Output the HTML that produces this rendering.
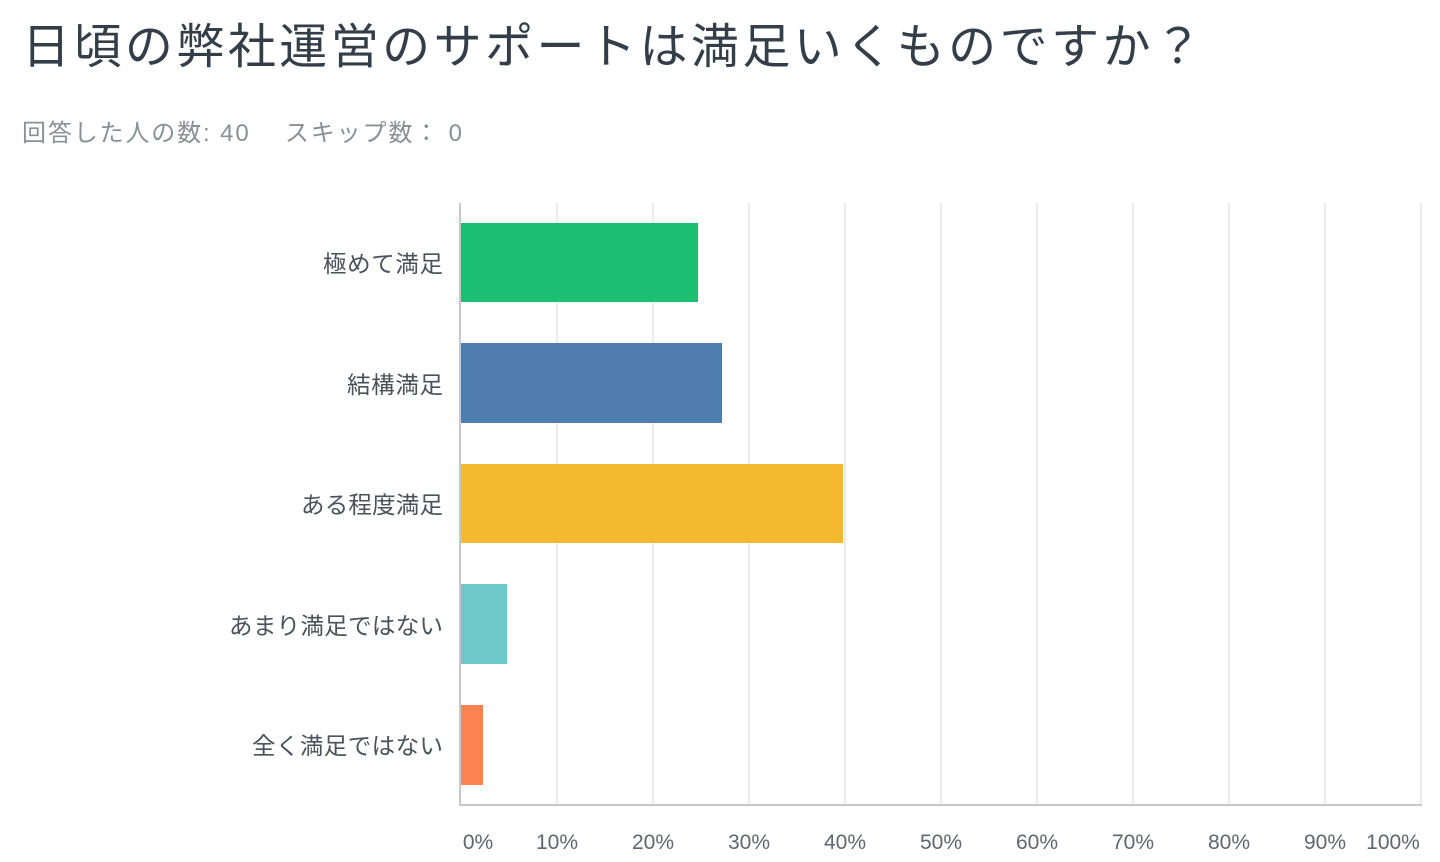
<!DOCTYPE html>
<html><head><meta charset="utf-8"><style>
html,body{margin:0;padding:0;background:#fff;width:1440px;height:862px;overflow:hidden}
svg{display:block}
text{font-family:"Liberation Sans","Noto Sans CJK JP",sans-serif}
</style></head><body>
<svg width="1440" height="862" viewBox="0 0 1440 862">
<text x="22" y="63" font-size="48" fill="#333e48" font-family="'Noto Sans CJK JP',sans-serif" textLength="1180" lengthAdjust="spacing">日頃の弊社運営のサポートは満足いくものですか？</text>
<text x="22" y="141" font-size="24" fill="#8a9096" font-family="'Noto Sans CJK JP',sans-serif" textLength="440" lengthAdjust="spacing">回答した人の数: 40　 スキップ数： 0</text>
<g stroke="#e6e6e6" stroke-width="1.5">
<line x1="557" y1="203" x2="557" y2="805"/><line x1="653" y1="203" x2="653" y2="805"/>
<line x1="749" y1="203" x2="749" y2="805"/><line x1="845" y1="203" x2="845" y2="805"/>
<line x1="941" y1="203" x2="941" y2="805"/><line x1="1037" y1="203" x2="1037" y2="805"/>
<line x1="1133" y1="203" x2="1133" y2="805"/><line x1="1229" y1="203" x2="1229" y2="805"/>
<line x1="1325" y1="203" x2="1325" y2="805"/><line x1="1421" y1="203" x2="1421" y2="805"/>
</g>
<rect x="461" y="223" width="237" height="79" fill="#1bbf72"/>
<rect x="461" y="343" width="261" height="80" fill="#4f7db0"/>
<rect x="461" y="464" width="382" height="79" fill="#f5b92f"/>
<rect x="461" y="584" width="46" height="80" fill="#6ec7c9"/>
<rect x="461" y="705" width="22" height="80" fill="#fd8450"/>
<g stroke="#c8c8c8" stroke-width="2"><line x1="460" y1="203" x2="460" y2="806"/><line x1="459" y1="805" x2="1422" y2="805"/></g>
<g font-size="23.5" fill="#4a525a" font-family="'Noto Sans CJK JP',sans-serif" lengthAdjust="spacing">
<text x="323" y="272" textLength="120">極めて満足</text>
<text x="347" y="393" textLength="96">結構満足</text>
<text x="301" y="513" textLength="142">ある程度満足</text>
<text x="229" y="634" textLength="214">あまり満足ではない</text>
<text x="252" y="754" textLength="191">全く満足ではない</text>
</g>
<g font-size="21" fill="#5f666d" text-anchor="middle">
<text x="478" y="849">0%</text><text x="557" y="849">10%</text><text x="653" y="849">20%</text>
<text x="749" y="849">30%</text><text x="845" y="849">40%</text><text x="941" y="849">50%</text>
<text x="1037" y="849">60%</text><text x="1133" y="849">70%</text><text x="1229" y="849">80%</text>
<text x="1325" y="849">90%</text><text x="1393" y="849">100%</text>
</g>
</svg>
</body></html>
